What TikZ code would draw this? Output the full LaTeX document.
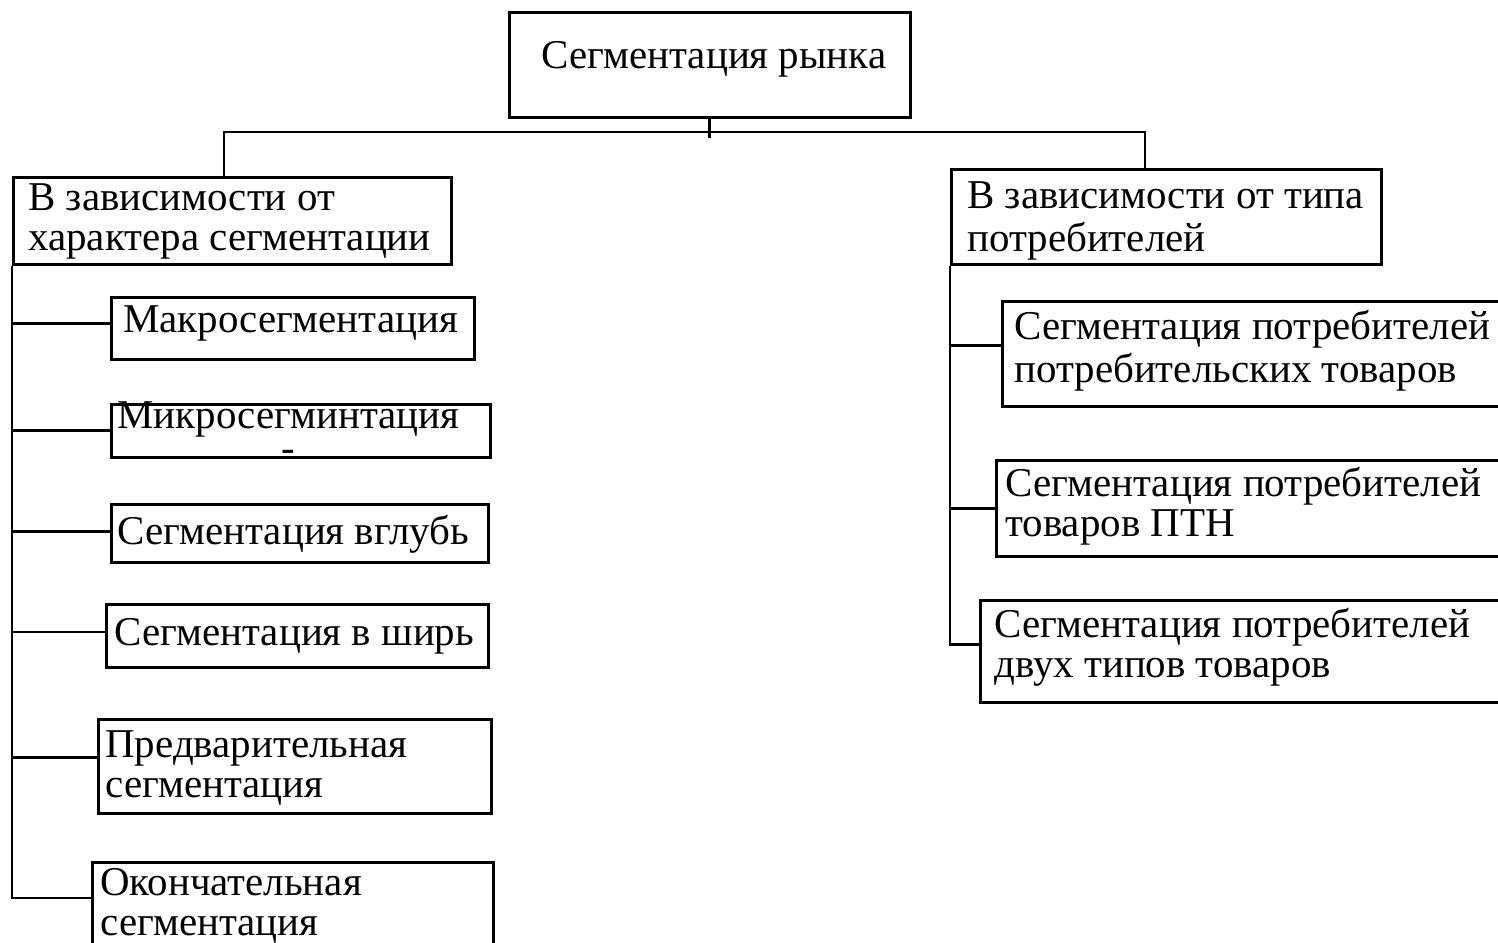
\documentclass[tikz,border=0pt]{standalone}
\usepackage{fontspec}
\setmainfont{Liberation Serif}
\usepackage{tikz}

\begin{document}
\begin{tikzpicture}[
    x=0.02cm, y=-0.02cm,
    blok/.style={draw, line width=1.5pt, inner sep=0pt, anchor=north west},
    nadp/.style={anchor=north west, inner sep=0pt, align=left, font=\fontsize{23.3pt}{22.8pt}\selectfont},
    svyaz/.style={line width=1.5pt},
]
\useasboundingbox (0,0) rectangle (1498,943);

% Верхний блок
\node[blok, minimum width=8.02cm, minimum height=2.10cm] (top) at (508,11) {};
\node[nadp] (topt) at (541,40) {\strut Сегментация рынка};

% Левая ветка
\node[blok, minimum width=8.76cm, minimum height=1.74cm] (lcat) at (12,176) {};
\node[nadp] (lcatt) at (28,182) {\strut В зависимости от\\характера сегментации};
\node[blok, minimum width=7.26cm, minimum height=1.24cm] (l1) at (110,296) {};
\node[blok, minimum width=7.58cm, minimum height=1.06cm] (l2) at (110,403) {};
\node[blok, minimum width=7.54cm, minimum height=1.16cm] (l3) at (110,503) {};
\node[blok, minimum width=7.64cm, minimum height=1.26cm] (l4) at (105,603) {};
\node[blok, minimum width=7.86cm, minimum height=1.88cm] (l5) at (97,718) {};
\node[blok, minimum width=8.02cm, minimum height=2.00cm] (l6) at (91,861) {};
\node[nadp] (l1t) at (123,304) {\strut Макросегментация};
\node[nadp, align=center] (l2t) at (117,400) {\strut Микросегминтация\\\raisebox{0.14cm}{-}};
\node[nadp] (l3t) at (117,515) {\strut Сегментация вглубь};
\node[nadp] (l4t) at (114,617) {\strut Сегментация в ширь};
\node[nadp] (l5t) at (105,729) {\strut Предварительная\\сегментация};
\node[nadp] (l6t) at (100,867) {\strut Окончательная\\сегментация};

% Правая ветка
\node[blok, minimum width=8.60cm, minimum height=1.90cm] (rcat) at (950,168) {};
\node[nadp] (rcatt) at (967,180) {\strut В зависимости от типа\\потребителей};
\node[blok, minimum width=10.38cm, minimum height=2.10cm] (r1) at (1001,300) {};
\node[blok, minimum width=10.50cm, minimum height=1.92cm] (r2) at (995,459) {};
\node[blok, minimum width=10.82cm, minimum height=2.04cm] (r3) at (979,599) {};
\node[nadp] (r1t) at (1014,310) {\strut Сегментация потребителей\\потребительских товаров};
\node[nadp] (r2t) at (1005,467) {\strut Сегментация потребителей\\товаров ПТН};
\node[nadp] (r3t) at (994,608) {\strut Сегментация потребителей\\двух типов товаров};

% Связи
\draw[svyaz] (top.south) -- ++(0,19);
\coordinate (shL) at (224,132);
\coordinate (shR) at (1145,132);
\draw[svyaz] (shL |- lcat.north) -- (shL) -- (shR) -- (shR |- rcat.north);

\coordinate (l6v) at ([yshift=-0.74cm]l6.north west);
\draw[svyaz] (lcat.south west) -- (lcat.south west |- l6v) -- (l6v);
\foreach \b/\s in {l1/0.1, l2/0, l3/0.04, l4/0.08, l5/0.18} {
    \coordinate (\b v) at ([yshift=\s cm]\b.west);
    \draw[svyaz] (lcat.south west |- \b v) -- (\b v);
}

\coordinate (r3v) at ([yshift=0.14cm]r3.west);
\draw[svyaz] (rcat.south west) -- (rcat.south west |- r3v) -- (r3v);
\foreach \b/\s in {r1/0.16, r2/0} {
    \coordinate (\b v) at ([yshift=\s cm]\b.west);
    \draw[svyaz] (rcat.south west |- \b v) -- (\b v);
}
\end{tikzpicture}
\end{document}
